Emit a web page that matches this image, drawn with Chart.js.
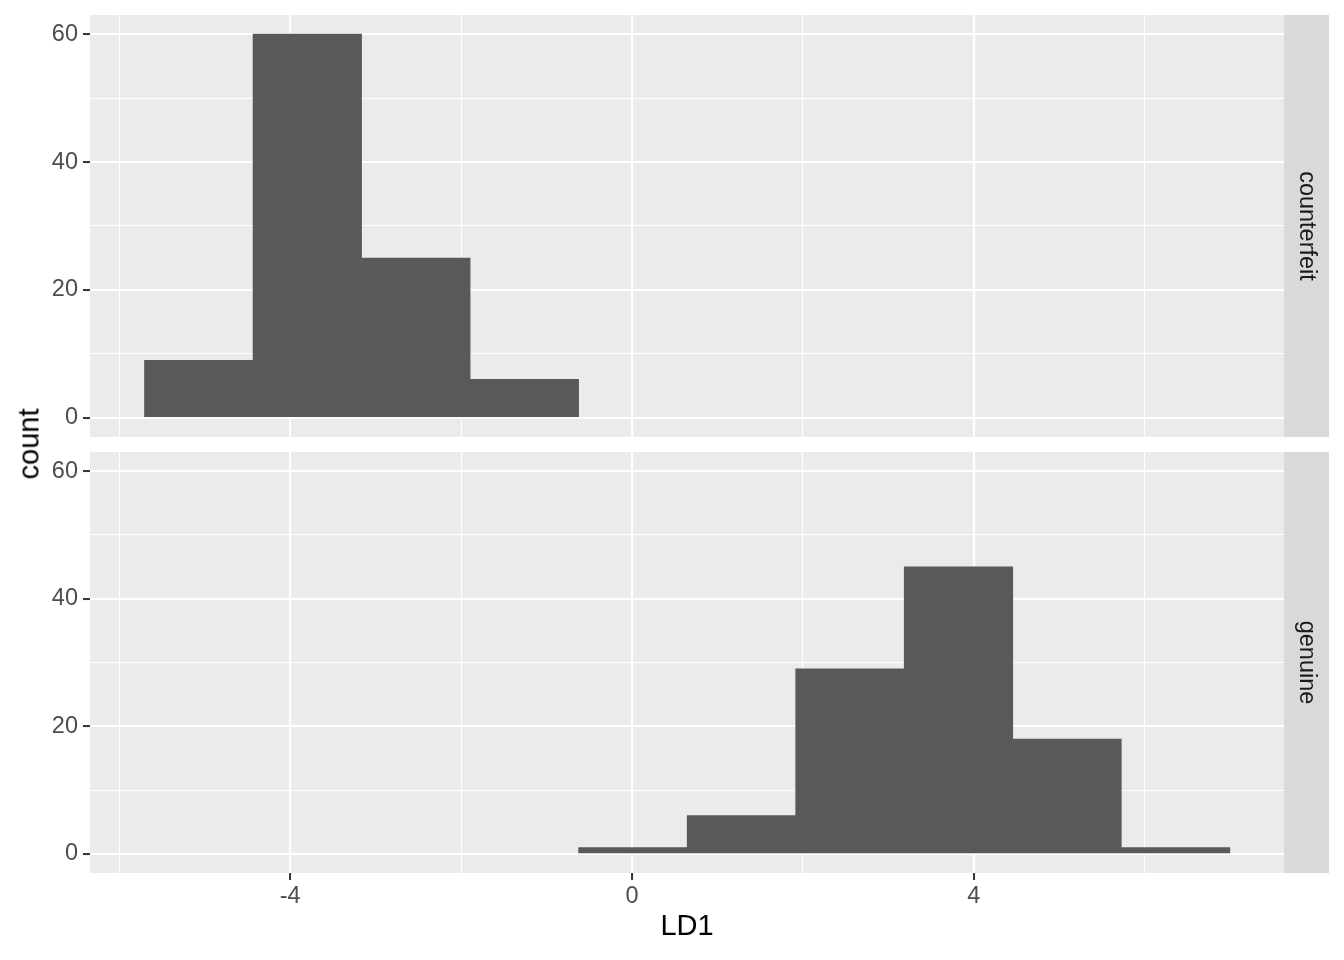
<!DOCTYPE html>
<html>
<head>
<meta charset="utf-8">
<script src="https://cdn.jsdelivr.net/npm/chart.js@4"></script>
<style>
  body { margin: 0; background: #fff; width: 1344px; height: 960px; position: relative; overflow: hidden; font-family: "Liberation Sans", Arial, sans-serif; }
  .panel { position: absolute; left: 0; width: 1344px; }
  #topWrap { top: 0; height: 437px; }
  #botWrap { top: 437px; height: 523px; }
  #countLabel { position: absolute; left: 29px; top: 444px; transform: translate(-50%, -50%) rotate(-90deg); font-size: 29px; color: #000; white-space: nowrap; font-family: "Liberation Sans", Arial, sans-serif; }
</style>
</head>
<body>
<div class="panel" id="topWrap"><canvas id="topChart"></canvas></div>
<div class="panel" id="botWrap"><canvas id="botChart"></canvas></div>
<div id="countLabel">count</div>
<script>
// histogram bins (LD1 bin centres) and counts per group
var binCenters = [-5.07, -3.80, -2.53, -1.26, 0.01, 1.28, 2.55, 3.82, 5.09, 6.36];
var counterfeitCounts = [9, 60, 25, 6, 0, 0, 0, 0, 0, 0];
var genuineCounts = [0, 0, 0, 0, 1, 6, 29, 45, 18, 1];
var groups = ["counterfeit", "genuine"];

var xTicks = [-6, -4, -2, 0, 2, 4, 6];
var xMajor = [-4, 0, 4];
var yTicks = [0, 10, 20, 30, 40, 50, 60];
var yMajor = [0, 20, 40, 60];

var xMin = -6.343, xMax = 7.629;
var yMin = -3, yMax = 63;

var tickFont = { family: "Liberation Sans", size: 23.5 };

// empty bins get no bar at all
function toPoints(counts) {
    return binCenters.map(function (c, i) { return { x: c, y: counts[i] === 0 ? null : counts[i] }; });
}

function isMajor(list, c) {
    return !!(c && c.tick && list.indexOf(c.tick.value) >= 0);
}

var panelBg = {
    id: 'panelBg',
    beforeDraw: function (chart) {
        var a = chart.chartArea, ctx = chart.ctx;
        ctx.save();
        ctx.fillStyle = '#EBEBEB';
        ctx.fillRect(a.left, a.top, a.right - a.left, a.bottom - a.top);
        ctx.restore();
    }
};

var stripLabel = {
    id: 'stripLabel',
    afterDraw: function (chart, args, opts) {
        var a = chart.chartArea, ctx = chart.ctx;
        ctx.save();
        ctx.fillStyle = '#D9D9D9';
        ctx.fillRect(a.right, a.top, 45, a.bottom - a.top);
        ctx.translate(a.right + 22.5, (a.top + a.bottom) / 2);
        ctx.rotate(Math.PI / 2);
        ctx.fillStyle = '#1A1A1A';
        ctx.font = '23.5px "Liberation Sans"';
        ctx.textAlign = 'center';
        ctx.textBaseline = 'middle';
        ctx.fillText(opts.text, 0, 0);
        ctx.restore();
    }
};

function makeChart(id, counts, label, isBottom) {
    return new Chart(id, {
        type: 'bar',
        data: {
            datasets: [{
                label: label,
                data: toPoints(counts),
                backgroundColor: '#595959',
                borderWidth: 0,
                barPercentage: 1,
                categoryPercentage: 1
            }]
        },
        options: {
            responsive: true,
            maintainAspectRatio: false,
            animation: false,
            skipNull: true,
            layout: { padding: { top: 15, right: 60, left: 0, bottom: 0 } },
            plugins: {
                legend: { display: false },
                tooltip: { enabled: false },
                stripLabel: { text: label }
            },
            scales: {
                x: {
                    type: 'linear',
                    min: xMin,
                    max: xMax,
                    offset: false,
                    afterBuildTicks: function (s) { s.ticks = xTicks.map(function (v) { return { value: v }; }); },
                    afterFit: function (s) {
                        s.height = isBottom ? 87 : 0;
                        s.paddingLeft = 0; s.paddingRight = 0;
                    },
                    border: { display: false },
                    grid: {
                        offset: false,
                        color: '#FFFFFF',
                        lineWidth: function (c) { return isMajor(xMajor, c) ? 2.1 : 1.05; },
                        drawTicks: isBottom,
                        tickLength: 7,
                        tickWidth: 2,
                        tickColor: function (c) { return isMajor(xMajor, c) ? '#333333' : 'rgba(0,0,0,0)'; }
                    },
                    ticks: {
                        display: isBottom,
                        color: '#4D4D4D',
                        font: tickFont,
                        padding: 2,
                        maxRotation: 0,
                        autoSkip: false,
                        callback: function (v) { return xMajor.indexOf(v) >= 0 ? String(v) : ''; }
                    },
                    title: {
                        display: isBottom,
                        text: 'LD1',
                        color: '#000000',
                        font: { family: "Liberation Sans", size: 29 },
                        padding: { top: 0, bottom: 16 }
                    }
                },
                y: {
                    min: yMin,
                    max: yMax,
                    afterBuildTicks: function (s) { s.ticks = yTicks.map(function (v) { return { value: v }; }); },
                    afterFit: function (s) {
                        s.width = 90;
                        s.paddingTop = 0; s.paddingBottom = 0;
                    },
                    border: { display: false },
                    grid: {
                        color: '#FFFFFF',
                        lineWidth: function (c) { return isMajor(yMajor, c) ? 2.1 : 1.05; },
                        tickLength: 7,
                        tickWidth: 2,
                        tickColor: function (c) { return isMajor(yMajor, c) ? '#333333' : 'rgba(0,0,0,0)'; }
                    },
                    ticks: {
                        color: '#4D4D4D',
                        font: tickFont,
                        padding: 5,
                        autoSkip: false,
                        callback: function (v) { return yMajor.indexOf(v) >= 0 ? String(v) : ''; }
                    }
                }
            }
        },
        plugins: [panelBg, stripLabel]
    });
}

makeChart('topChart', counterfeitCounts, groups[0], false);
makeChart('botChart', genuineCounts, groups[1], true);
</script>
</body>
</html>
